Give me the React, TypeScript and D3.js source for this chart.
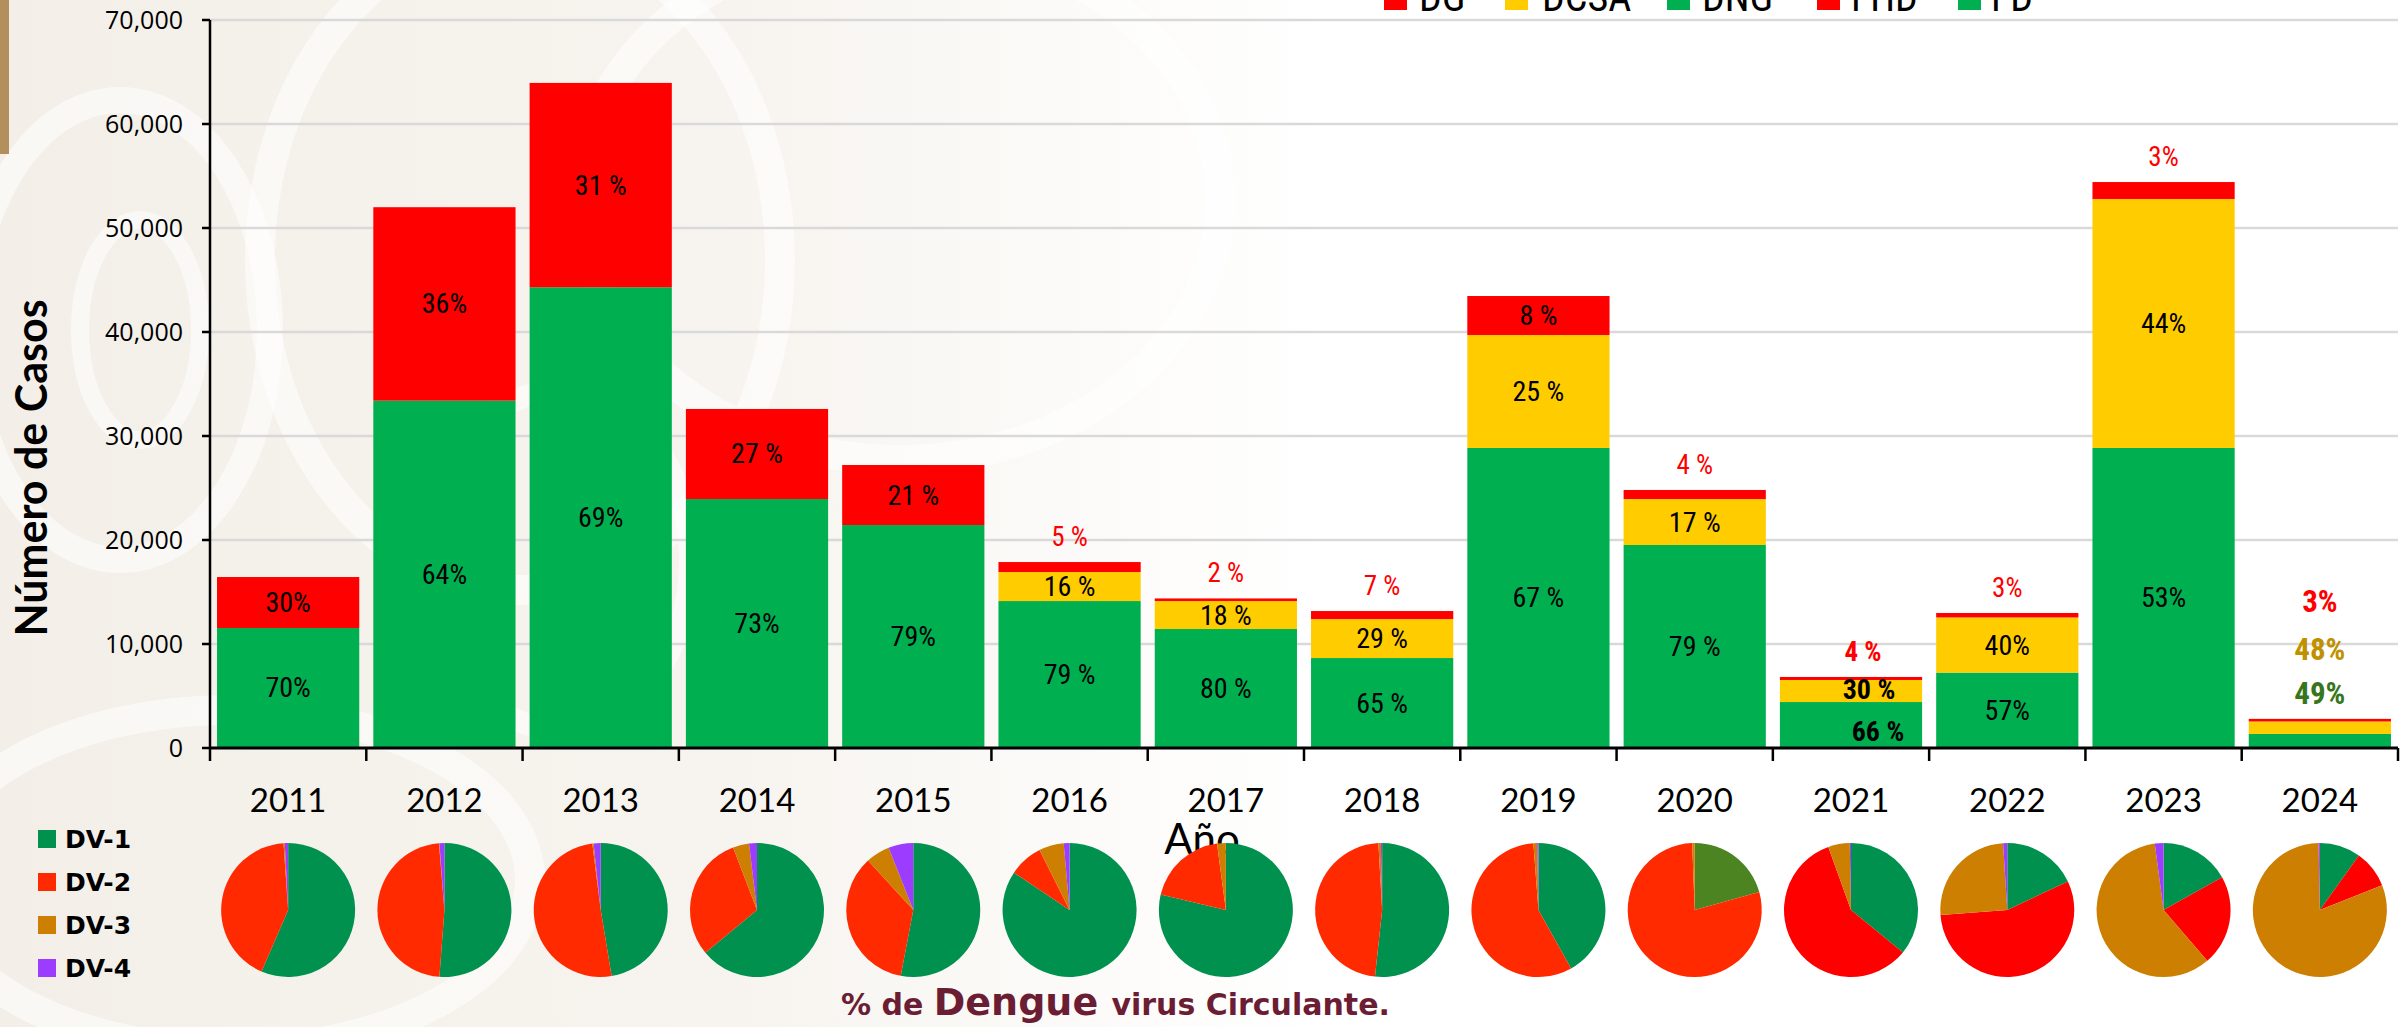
import React from 'react';
import * as d3 from 'd3';

// --- data ---
const years = ['2011', '2012', '2013', '2014', '2015', '2016', '2017', '2018', '2019', '2020', '2021', '2022', '2023', '2024'];

// FD / FHD (2011-2015), DNG / DCSA / DG (2016-2024)
const fd = [11540, 33400, 44300, 23940, 21440, 0, 0, 0, 0, 0, 0, 0, 0, 0];
const fhd = [4900, 18600, 19650, 8660, 5770, 0, 0, 0, 0, 0, 0, 0, 0, 0];
const dng = [0, 0, 0, 0, 0, 14130, 11440, 8650, 28850, 19520, 4420, 7250, 28850, 1350];
const dcsa = [0, 0, 0, 0, 0, 2790, 2690, 3750, 10860, 4420, 2120, 5300, 23940, 1200];
const dg = [0, 0, 0, 0, 0, 960, 250, 770, 3750, 870, 290, 430, 1630, 250];

const greenLabels = ['70%', '64%', '69%', '73%', '79%', '79 %', '80 %', '65 %', '67 %', '79 %', '66 %', '57%', '53%', '49%'];
const yellowLabels = ['', '', '', '', '', '16 %', '18 %', '29 %', '25 %', '17 %', '30 %', '40%', '44%', '48%'];
const redLabels = ['30%', '36%', '31 %', '27 %', '21 %', '5 %', '2 %', '7 %', '8 %', '4 %', '4 %', '3%', '3%', '3%'];

const yTicks = [0, 10000, 20000, 30000, 40000, 50000, 60000, 70000];

// serotipos circulantes (%)
const dv1 = [56.5, 51.2, 47.4, 64.0, 53.0, 84.4, 78.7, 51.7, 41.9, 20.7, 35.9, 18.0, 16.9, 9.9];
const dv2 = [42.4, 47.5, 50.6, 30.2, 35.2, 8.2, 19.2, 47.4, 56.9, 78.7, 58.6, 55.8, 21.8, 9.1];
const dv3 = [0.3, 0.1, 0.3, 3.9, 5.8, 6.0, 2.1, 0.6, 0.9, 0.6, 5.2, 25.2, 59.2, 80.7];
const dv4 = [0.8, 1.2, 1.7, 1.9, 6.0, 1.4, 0, 0.3, 0.3, 0, 0.3, 1.0, 2.1, 0.3];

const legendTop = ['DG', 'DCSA', 'DNG', 'FHD', 'FD'];
const legendDV = ['DV-1', 'DV-2', 'DV-3', 'DV-4'];

const W = 2407;
const H = 1027;
const NARROW = "'Liberation Sans Narrow', 'Roboto Condensed', Lato, sans-serif";

const barColor: Record<string, string> = {
  fd: '#00b050', dng: '#00b050', dcsa: '#ffcc00', fhd: '#ff0000', dg: '#ff0000',
};
const topLegendColor: Record<string, string> = {
  DG: '#ff0000', DCSA: '#ffcc00', DNG: '#00b050', FHD: '#ff0000', FD: '#00b050',
};
const dvColor = ['#00914f', '#ff2a00', '#cc7f00', '#9b3cff'];

function pieColor(k: number, year: string) {
  if (k === 0 && year === '2020') return '#4b8420';
  if (k === 1 && +year >= 2021) return '#ff0000';
  return dvColor[k];
}

const App = () => {
  const x = d3.scaleBand<string>()
    .domain(years)
    .range([210, 2398])
    .paddingInner(0.09)
    .paddingOuter(0.045);
  const y = d3.scaleLinear().domain([0, 70000]).range([748, 20]);
  const fmt = d3.format(',');

  const rows = years.map((yr, i) => ({ year: yr, fd: fd[i], dng: dng[i], dcsa: dcsa[i], fhd: fhd[i], dg: dg[i] }));
  const keys = ['fd', 'dng', 'dcsa', 'fhd', 'dg'];
  const series = d3.stack<any>().keys(keys)(rows);

  const step = x.step();
  const x0 = 210;
  const pie = d3.pie<number>().sort(null).value(d => d);
  const arc = d3.arc<any>().innerRadius(0).outerRadius(67);

  // etiquetas de porcentaje
  const labels: any[] = [];
  years.forEach((yr, i) => {
    const cx = (x(yr) as number) + x.bandwidth() / 2;
    const green = fd[i] + dng[i];
    const yellow = dcsa[i];
    const red = fhd[i] + dg[i];
    const total = green + yellow + red;
    const topY = y(total);
    const barPx = y(0) - topY;
    const bold = yr === '2021';
    if (barPx < 40) {
      labels.push({ x: cx, y: topY - 107, t: redLabels[i], fill: '#ff0000', size: 31, bold: true, base: 'auto' });
      labels.push({ x: cx, y: topY - 59, t: yellowLabels[i], fill: '#bf9000', size: 31, bold: true, base: 'auto' });
      labels.push({ x: cx, y: topY - 15, t: greenLabels[i], fill: '#38761d', size: 31, bold: true, base: 'auto' });
      return;
    }
    const dx = bold ? [27, 18, 12] : [0, 0, 0];
    labels.push({ x: cx + dx[0], y: (y(0) + y(green)) / 2 + (bold ? 6 : 0), t: greenLabels[i], fill: '#000', size: 28, bold, base: 'central' });
    if (yellow > 0) {
      labels.push({ x: cx + dx[1], y: (y(green) + y(green + yellow)) / 2 - (bold ? 2 : 0), t: yellowLabels[i], fill: '#000', size: 28, bold, base: 'central' });
    }
    const redPx = y(green + yellow) - topY;
    if (redPx > 30) {
      labels.push({ x: cx, y: (y(green + yellow) + topY) / 2, t: redLabels[i], fill: '#000', size: 28, bold, base: 'central' });
    } else {
      labels.push({ x: cx + dx[2], y: topY - 16, t: redLabels[i], fill: '#ff0000', size: 27, bold, base: 'auto' });
    }
  });

  const topLegendX = [[1384, 1419], [1505, 1542], [1667, 1702], [1817, 1851], [1958, 1991]];

  return (
    <svg width={W} height={H} style={{ position: 'absolute', left: 0, top: 0, display: 'block' }}>
      <defs>
        <linearGradient id="bg" x1="0" x2="1" y1="0" y2="0">
          <stop offset="0%" stopColor="#f3efe8" />
          <stop offset="30%" stopColor="#f7f4ef" />
          <stop offset="55%" stopColor="#ffffff" />
          <stop offset="100%" stopColor="#ffffff" />
        </linearGradient>
      </defs>
      <rect x={0} y={0} width={W} height={H} fill="url(#bg)" />
      {/* marca de agua aproximada */}
      <g fill="none" stroke="#ffffff" strokeOpacity={0.55}>
        <ellipse cx={120} cy={330} rx={150} ry={230} strokeWidth={26} />
        <ellipse cx={140} cy={330} rx={60} ry={110} strokeWidth={18} />
        <ellipse cx={520} cy={260} rx={260} ry={330} strokeWidth={30} />
        <ellipse cx={560} cy={560} rx={130} ry={170} strokeWidth={22} />
        <ellipse cx={230} cy={880} rx={300} ry={170} strokeWidth={30} />
        <ellipse cx={900} cy={200} rx={320} ry={260} strokeWidth={30} />
      </g>
      <rect x={0} y={0} width={9} height={154} fill="#b38f5e" />

      {/* cuadrícula */}
      {yTicks.filter(t => t > 0).map(t => (
        <line key={t} x1={x0} x2={2398} y1={y(t)} y2={y(t)} stroke="#d9d9d9" strokeWidth={2.5} />
      ))}

      {/* barras apiladas */}
      {series.map(s => (
        <g key={s.key} fill={barColor[s.key]}>
          {s.map((d: any, i: number) => {
            const h = y(d[0]) - y(d[1]);
            if (h <= 0) return null;
            return <rect key={i} x={x(years[i])} y={y(d[1])} width={x.bandwidth()} height={h} />;
          })}
        </g>
      ))}

      {/* eje Y */}
      <line x1={x0} x2={x0} y1={y(70000)} y2={y(0)} stroke="#000" strokeWidth={2.5} />
      {yTicks.map(t => (
        <g key={t}>
          <line x1={x0 - 8} x2={x0} y1={y(t)} y2={y(t)} stroke="#000" strokeWidth={2.5} />
          <text x={183} y={y(t)} dy="0.36em" textAnchor="end" fontFamily="'Open Sans', sans-serif" fontSize={25} fill="#000">{fmt(t)}</text>
        </g>
      ))}
      <text transform={`translate(47,468) rotate(-90)`} textAnchor="middle" fontFamily="Lato, sans-serif" fontWeight={700} fontSize={43} fill="#000">Número de Casos</text>

      {/* eje X */}
      <line x1={x0} x2={2398} y1={y(0)} y2={y(0)} stroke="#000" strokeWidth={3} />
      {d3.range(years.length + 1).map(k => (
        <line key={k} x1={x0 + k * step} x2={x0 + k * step} y1={y(0)} y2={y(0) + 13} stroke="#000" strokeWidth={2.5} />
      ))}
      {years.map(yr => (
        <text key={yr} x={(x(yr) as number) + x.bandwidth() / 2} y={812} textAnchor="middle" fontFamily="Lato, sans-serif" fontSize={33} fill="#000">{yr}</text>
      ))}
      <text x={1202} y={854} textAnchor="middle" fontFamily="Lato, sans-serif" fontSize={42} fill="#000">Año</text>

      {/* etiquetas */}
      {labels.map((l, i) => (
        <text key={i} x={l.x} y={l.y} textAnchor="middle" dominantBaseline={l.base} fontFamily={NARROW}
          fontSize={l.size} fontWeight={l.bold ? 700 : 400} fill={l.fill}>{l.t}</text>
      ))}

      {/* leyenda superior (cortada en el borde) */}
      {legendTop.map((k, i) => (
        <g key={k}>
          <rect x={topLegendX[i][0]} y={-13} width={23} height={23} fill={topLegendColor[k]} />
          <text x={topLegendX[i][1]} y={11} fontFamily={NARROW} fontSize={40} fill="#000">{k}</text>
        </g>
      ))}

      {/* pasteles de serotipos */}
      {years.map((yr, i) => {
        const cx = (x(yr) as number) + x.bandwidth() / 2;
        const arcs = pie([dv1[i], dv2[i], dv3[i], dv4[i]]);
        return (
          <g key={yr} transform={`translate(${cx},910)`}>
            {arcs.map((a, k) => a.value > 0 ? (
              <path key={k} d={arc(a) as string} fill={pieColor(k, yr)} />
            ) : null)}
          </g>
        );
      })}

      {/* leyenda DV */}
      {legendDV.map((k, i) => (
        <g key={k}>
          <rect x={38} y={830 + i * 43} width={18} height={18} fill={dvColor[i]} />
          <text x={65} y={848 + i * 43} fontFamily="'DejaVu Sans', sans-serif" fontWeight={700} fontSize={25} fill="#000">{k}</text>
        </g>
      ))}

      <text x={841} y={1015} fontFamily="'DejaVu Sans', sans-serif" fontWeight={700} fill="#6b1d34">
        <tspan fontSize={30}>% de </tspan>
        <tspan fontSize={38}>Dengue </tspan>
        <tspan fontSize={30}>virus Circulante.</tspan>
      </text>
    </svg>
  );
};

export default App;
